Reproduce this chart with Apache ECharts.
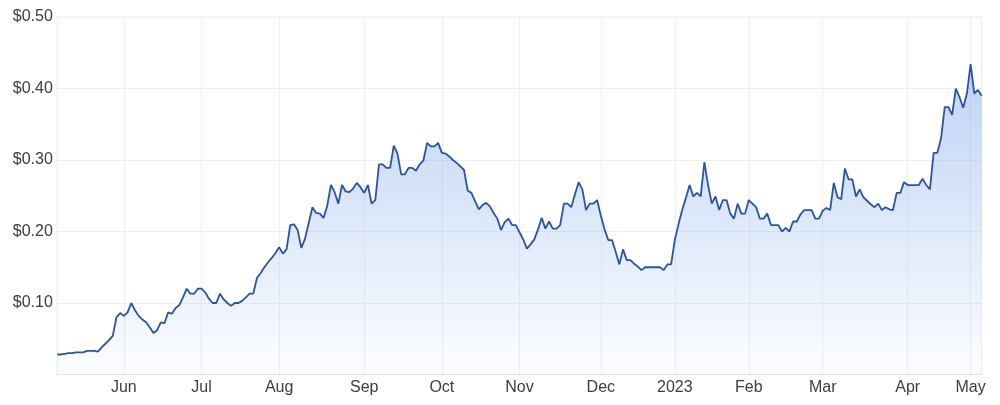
<!DOCTYPE html>
<html>
<head>
<meta charset="utf-8">
<script src="https://cdn.jsdelivr.net/npm/echarts@6/dist/echarts.min.js"></script>
<style>
html,body{margin:0;padding:0;background:#fff;}
#chart{width:1000px;height:405px;}
</style>
</head>
<body>
<div id="chart"></div>
<script>
// Trading calendar (ASX) for the period shown
var startDate = '2022-05-06';
var endDate = '2023-05-04';
var holidays = ['2022-06-13','2022-09-22','2022-12-26','2022-12-27','2023-01-02','2023-01-26','2023-04-07','2023-04-10','2023-04-25'];

// Month tick positions and their labels
var tickMonths = ['2022-06','2022-07','2022-08','2022-09','2022-10','2022-11','2022-12','2023-01','2023-02','2023-03','2023-04','2023-05'];
var tickLabels = ['Jun','Jul','Aug','Sep','Oct','Nov','Dec','2023','Feb','Mar','Apr','May'];

// Y-axis tick values
var yTicks = [0, 0.1, 0.2, 0.3, 0.4, 0.5];

// Daily closing price
var prices = [
0.028,0.028,0.029,0.030,0.030,0.031,0.031,0.031,0.033,0.033,
0.033,0.032,0.038,0.043,0.048,0.054,0.080,0.086,0.082,0.087,
0.100,0.090,0.082,0.077,0.073,0.066,0.058,0.062,0.073,0.072,
0.087,0.085,0.093,0.097,0.108,0.120,0.113,0.113,0.120,0.120,
0.115,0.106,0.100,0.100,0.113,0.105,0.100,0.096,0.100,0.100,
0.103,0.108,0.113,0.113,0.135,0.142,0.150,0.157,0.163,0.170,
0.178,0.169,0.175,0.209,0.210,0.202,0.177,0.190,0.212,0.234,
0.226,0.225,0.219,0.236,0.265,0.255,0.239,0.265,0.256,0.255,
0.260,0.268,0.262,0.254,0.265,0.239,0.244,0.294,0.294,0.289,
0.289,0.320,0.309,0.280,0.280,0.289,0.289,0.285,0.294,0.299,
0.324,0.319,0.319,0.324,0.310,0.309,0.305,0.300,0.296,0.291,
0.286,0.257,0.254,0.242,0.231,0.237,0.240,0.235,0.226,0.218,
0.202,0.213,0.218,0.209,0.209,0.199,0.189,0.176,0.182,0.189,
0.203,0.219,0.204,0.214,0.204,0.204,0.209,0.239,0.239,0.234,
0.252,0.269,0.259,0.230,0.239,0.239,0.244,0.222,0.203,0.188,
0.188,0.172,0.154,0.175,0.160,0.160,0.155,0.151,0.146,0.150,
0.150,0.150,0.150,0.150,0.146,0.154,0.154,0.188,0.210,0.230,
0.247,0.265,0.249,0.254,0.249,0.297,0.265,0.239,0.249,0.230,
0.244,0.244,0.225,0.218,0.239,0.225,0.225,0.244,0.239,0.234,
0.218,0.218,0.225,0.209,0.209,0.209,0.200,0.205,0.200,0.214,
0.214,0.224,0.230,0.230,0.230,0.218,0.218,0.229,0.233,0.230,
0.268,0.248,0.245,0.288,0.273,0.273,0.249,0.259,0.248,0.243,
0.238,0.234,0.239,0.230,0.234,0.231,0.230,0.254,0.254,0.269,
0.265,0.265,0.265,0.265,0.274,0.265,0.259,0.310,0.310,0.330,
0.374,0.374,0.363,0.400,0.388,0.373,0.393,0.434,0.393,0.398,
0.390
];

// Build trading-day categories
function pad(n){return (n<10?'0':'')+n;}
var dates = [];
(function(){
  var d = new Date(startDate + 'T00:00:00Z');
  var e = new Date(endDate + 'T00:00:00Z');
  while (d <= e) {
    var s = d.getUTCFullYear() + '-' + pad(d.getUTCMonth()+1) + '-' + pad(d.getUTCDate());
    var wd = d.getUTCDay();
    if (wd !== 0 && wd !== 6 && holidays.indexOf(s) < 0) dates.push(s);
    d.setUTCDate(d.getUTCDate()+1);
  }
})();

// index of first trading day in each tick month
var tickIndex = {};
tickMonths.forEach(function(m, k){
  for (var i = 0; i < dates.length; i++) {
    if (dates[i].slice(0,7) === m) { tickIndex[i] = tickLabels[k]; break; }
  }
});
function isTick(i){ return tickIndex.hasOwnProperty(i); }

var FONT = '"Liberation Sans", Arial, sans-serif';
var chart = echarts.init(document.getElementById('chart'), null, {renderer:'canvas'});
chart.setOption({
  animation: false,
  backgroundColor: '#fff',
  grid: {left: 57.3, right: 18.3, top: 17, bottom: 30.5, show: true, borderColor: '#ececec', borderWidth: 1},
  xAxis: {
    type: 'category',
    data: dates,
    boundaryGap: false,
    axisLine: {show: true, lineStyle: {color: '#e2e2e2', width: 1}},
    axisTick: {show: false},
    axisLabel: {
      interval: function(i){ return isTick(i); },
      formatter: function(v, i){ return tickIndex[i] || ''; },
      color: '#3d3d3d',
      fontSize: 16,
      fontFamily: FONT,
      margin: 5
    },
    splitLine: {show: true, interval: function(i){ return isTick(i); }, lineStyle: {color: '#efefef', width: 1}}
  },
  yAxis: {
    type: 'value',
    min: yTicks[0],
    max: yTicks[yTicks.length-1],
    interval: 0.1,
    axisLine: {show: false},
    axisTick: {show: false},
    axisLabel: {
      formatter: function(v){ return v === 0 ? '' : '$' + v.toFixed(2); },
      color: '#3d3d3d',
      fontSize: 16,
      fontFamily: FONT,
      margin: 4.5
    },
    splitLine: {show: true, lineStyle: {color: '#efefef', width: 1}}
  },
  series: [{
    type: 'line',
    data: prices,
    symbol: 'none',
    smooth: false,
    lineStyle: {color: '#2a53a5', width: 1.8},
    areaStyle: {
      color: new echarts.graphic.LinearGradient(0, 0, 0, 1, [
        {offset: 0, color: 'rgba(125,168,235,0.72)'},
        {offset: 1, color: 'rgba(125,168,235,0.03)'}
      ])
    }
  }]
});
</script>
</body>
</html>
